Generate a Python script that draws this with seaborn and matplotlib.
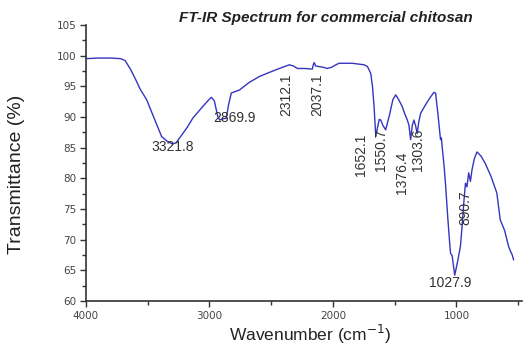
import pandas as pd
import matplotlib.pyplot as plt
import seaborn as sns
from matplotlib.ticker import MultipleLocator

# spectrum
wavenumber = [4000, 3900, 3800, 3720, 3683, 3640, 3600, 3560, 3508, 3450,
              3387, 3340, 3300, 3270, 3230, 3180, 3135, 3054, 3010, 2984,
              2960, 2933, 2917, 2890, 2863, 2845, 2823, 2756, 2680, 2595,
              2510, 2434, 2353, 2320, 2288, 2230, 2167, 2158, 2151, 2140,
              2111, 2080, 2046, 2010, 1976, 1950, 1845, 1748, 1720, 1694,
              1680, 1667, 1653, 1640, 1625, 1613, 1595, 1573, 1540, 1515,
              1492, 1470, 1439, 1420, 1398, 1385, 1371, 1358, 1344, 1330,
              1318, 1305, 1290, 1250, 1215, 1183, 1169, 1150, 1135, 1129,
              1122, 1116, 1100, 1089, 1070, 1055, 1048, 1035, 1014, 990,
              968, 955, 941, 927, 915, 901, 887, 874, 855, 834,
              800, 766, 720, 673, 645, 610, 578, 560, 550, 537]
transmittance = [99.5, 99.6, 99.6, 99.5, 99.2, 97.8, 96.2, 94.5, 92.8, 89.9,
                 86.8, 86.0, 85.6, 85.8, 86.9, 88.3, 89.8, 91.7, 92.7, 93.2,
                 92.6, 90.1, 89.5, 89.7, 89.8, 92.0, 93.9, 94.4, 95.6, 96.6,
                 97.3, 97.9, 98.5, 98.3, 97.9, 97.9, 97.8, 98.6, 98.85, 98.3,
                 98.2, 98.1, 97.9, 98.1, 98.5, 98.75, 98.75, 98.5, 98.2, 97.1,
                 95.0, 91.7, 86.8, 88.2, 89.6, 89.5, 88.6, 87.9, 90.5, 92.8,
                 93.6, 92.9, 91.7, 90.6, 89.5, 88.7, 86.3, 88.6, 89.5, 88.5,
                 87.3, 89.2, 90.6, 92.0, 93.1, 94.0, 93.9, 90.5, 87.5, 86.3,
                 86.6, 85.2, 82.0, 79.2, 73.5, 69.5, 67.8, 67.4, 64.2, 66.5,
                 68.9, 72.0, 75.9, 79.2, 78.6, 80.9, 79.5, 81.4, 83.2, 84.3,
                 83.6, 82.4, 80.3, 77.6, 73.2, 71.5, 68.9, 68.0, 67.6, 66.7]

peak_labels = ['3321.8', '2869.9', '2312.1', '2037.1', '1652.1',
               '1550.7', '1376.4', '1303.6', '890.7', '1027.9']
label_x = [3296, 2796, 2381, 2124, 1774, 1613, 1444, 1310, 927, 1048]
label_y = [85.1, 89.8, 93.6, 93.6, 83.8, 84.6, 80.9, 84.6, 75.2, 62.9]
label_rot = [0, 0, 90, 90, 90, 90, 90, 90, 90, 0]

df = pd.DataFrame({'Wavenumber': wavenumber, 'Transmittance': transmittance})

sns.set_style('ticks')
plt.rcParams['font.family'] = ['Liberation Sans', 'DejaVu Sans']

fig = plt.figure(figsize=(5.24, 3.46), dpi=100)
ax = fig.add_axes([0.164, 0.130, 0.832, 0.798])

sns.lineplot(data=df, x='Wavenumber', y='Transmittance', color='#3535c0',
             linewidth=1.0, estimator=None, ax=ax)

for txt, x, y, r in zip(peak_labels, label_x, label_y, label_rot):
    ax.text(x, y, txt, rotation=r, ha='center', va='center',
            fontsize=10, color='#333333')

ax.set_xlim(4000, 470)
ax.set_ylim(60, 105)
ax.xaxis.set_major_locator(MultipleLocator(1000))
ax.xaxis.set_minor_locator(MultipleLocator(500))
ax.yaxis.set_major_locator(MultipleLocator(5))
ax.yaxis.set_minor_locator(MultipleLocator(2.5))

for side in ['top', 'right']:
    ax.spines[side].set_visible(False)
for side in ['left', 'bottom']:
    ax.spines[side].set_color('#333333')
    ax.spines[side].set_linewidth(1.2)

ax.tick_params(which='major', length=4, width=1, color='#333333',
               labelsize=7.5, labelcolor='#444444', pad=3)
ax.tick_params(which='minor', length=3, width=1, color='#333333')
for lab in ax.get_xticklabels() + ax.get_yticklabels():
    lab.set_family('DejaVu Sans')

ax.set_xlabel('Wavenumber (cm$^{-1}$)', fontsize=12.5, color='#222222')
ax.set_ylabel('Transmittance (%)', fontsize=14, color='#222222')
ax.xaxis.set_label_coords(0.514, -0.08)
ax.yaxis.set_label_coords(-0.14, 0.46)

fig.text(0.622, 0.948, 'FT-IR Spectrum for commercial chitosan', ha='center',
         va='center', fontsize=11, fontweight='bold', fontstyle='italic',
         color='#222222')

fig.savefig('out.png', dpi=100)
